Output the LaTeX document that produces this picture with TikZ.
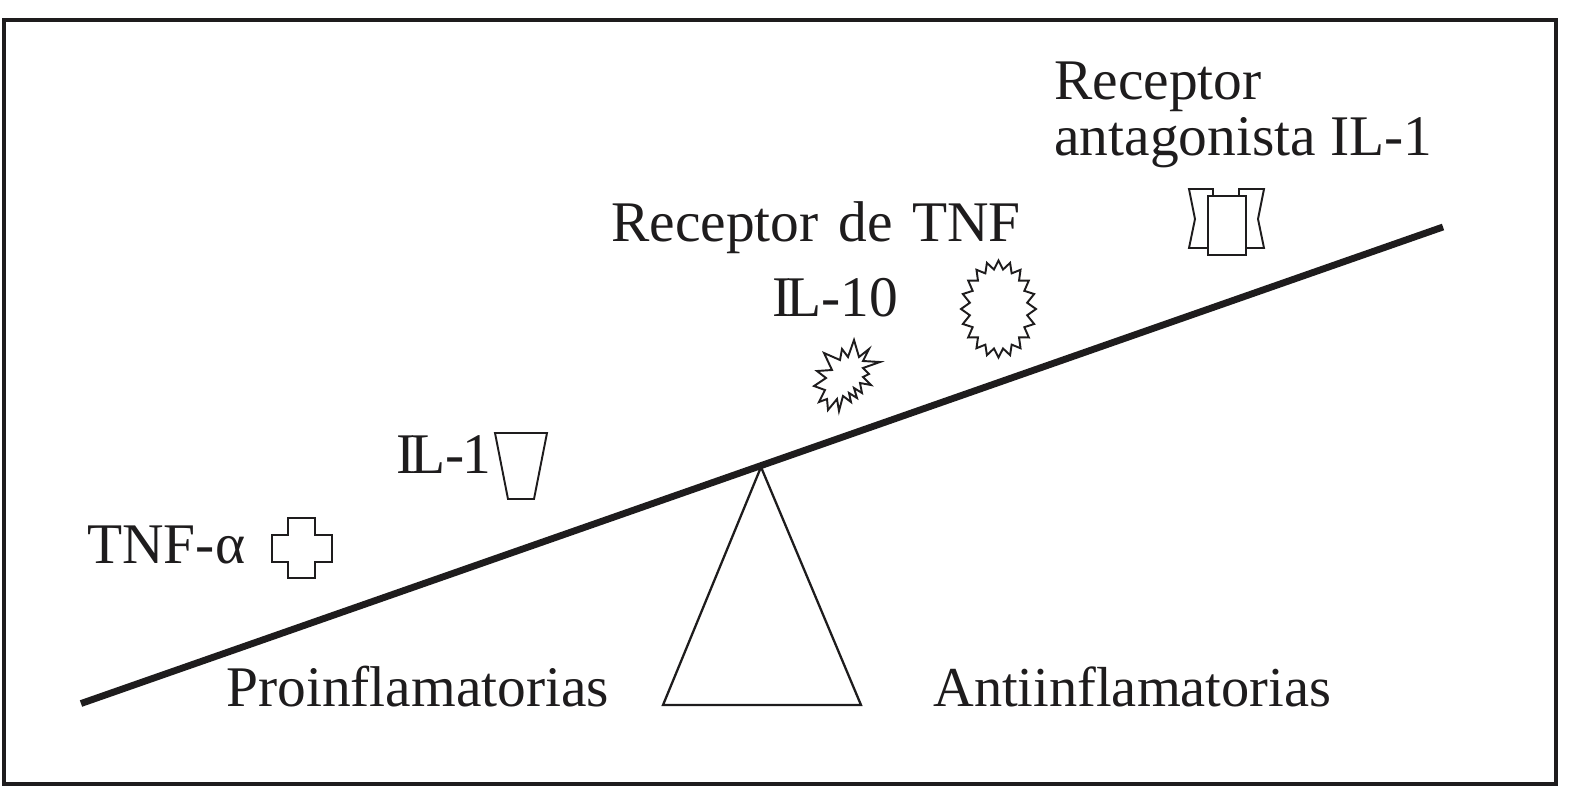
\documentclass[tikz,border=0pt]{standalone}
\usepackage{fontspec}
\setmainfont{Liberation Serif}
\usetikzlibrary{positioning}
\definecolor{Ink}{HTML}{1E1C1D}

\tikzset{
  label/.style={anchor=base west, inner sep=0pt, font=\fontsize{32.7}{40}\selectfont, text=Ink},
  glyph/.style={draw=Ink, line width=1.1pt, line join=miter, fill=white},
}

\begin{document}
\begin{tikzpicture}[x=0.02cm, y=-0.02cm]
    \useasboundingbox (0,0) rectangle (1575,806);
    \draw[Ink, line width=2.6pt] (4,20) rectangle (1556,784);

    % balance
    \coordinate (beamL) at (81,703.5);
    \coordinate (beamR) at (1443,227);
    \draw[Ink, line width=3.9pt] (beamL) -- (beamR);
    \draw[Ink, line width=1.3pt, line join=miter] (761,467) -- (861,705) -- (663,705) -- cycle;

    % TNF-alpha: cross
    \draw[glyph] (288,518) -- (315,518) -- (315,535) -- (332,535) -- (332,562) -- (315,562) -- (315,578) -- (288,578) -- (288,562) -- (272,562) -- (272,535) -- (288,535) -- cycle;
    % IL-1: cup
    \draw[glyph] (495,433) -- (547,433) -- (534,499) -- (508,499) -- cycle;
    % IL-10: burst
    \draw[glyph] (854,340) -- (859,357) -- (869,349) -- (863,361) -- (880,362) -- (863,368) -- (869,374) -- (863,377) -- (871,385) -- (860,383) -- (862,393) -- (854,388) -- (857,398) -- (849,393) -- (851,402) -- (843,396) -- (839,411) -- (837,399) -- (828,410) -- (827,399) -- (819,402) -- (825,390) -- (814,386) -- (826,378) -- (817,371) -- (832,370) -- (824,353) -- (840,360) -- (842,349) -- (848,357) -- cycle;
    % TNF receptor: round burst
    \draw[glyph] (1036,309)
      \foreach \k in {1,...,39}{ -- ({998.5+(isodd(\k)?29:37.5)*cos(\k*9)},{309+(isodd(\k)?40:48.5)*sin(\k*9)}) } -- cycle;
    % IL-1 receptor antagonist: two flanks and a block
    \draw[glyph] (1189,189) -- (1213,189) -- (1213,248) -- (1189,248) -- (1195,219) -- cycle;
    \draw[glyph] (1239,189) -- (1264,189) -- (1258,219) -- (1264,248) -- (1239,248) -- cycle;
    \draw[glyph] (1208,196) rectangle (1246,255);

    \node[label] (tnfa) at (87,563) {TNF-α};
    \node[label] (ilone) at (396,473) {I\kern-3pt L-\kern-1pt 1};
    \node[label] (ilten) at (772,316) {I\kern-3pt L-10};
    \node[label] (rtnf) at (611,241) {Receptor\kern3pt\ de\kern3pt\ TNF};
    \node[label] (ra) at (1054,99) {Receptor};
    \node[label] (rb) at (1054,155) {antagonista IL-1};
    \node[label] (pro) at (226,706) {Proinflamatorias};
    \node[label, font=\fontsize{32.1}{40}\selectfont] (anti) at (933,706) {Antiinflamatorias};
  \end{tikzpicture}
\end{document}
